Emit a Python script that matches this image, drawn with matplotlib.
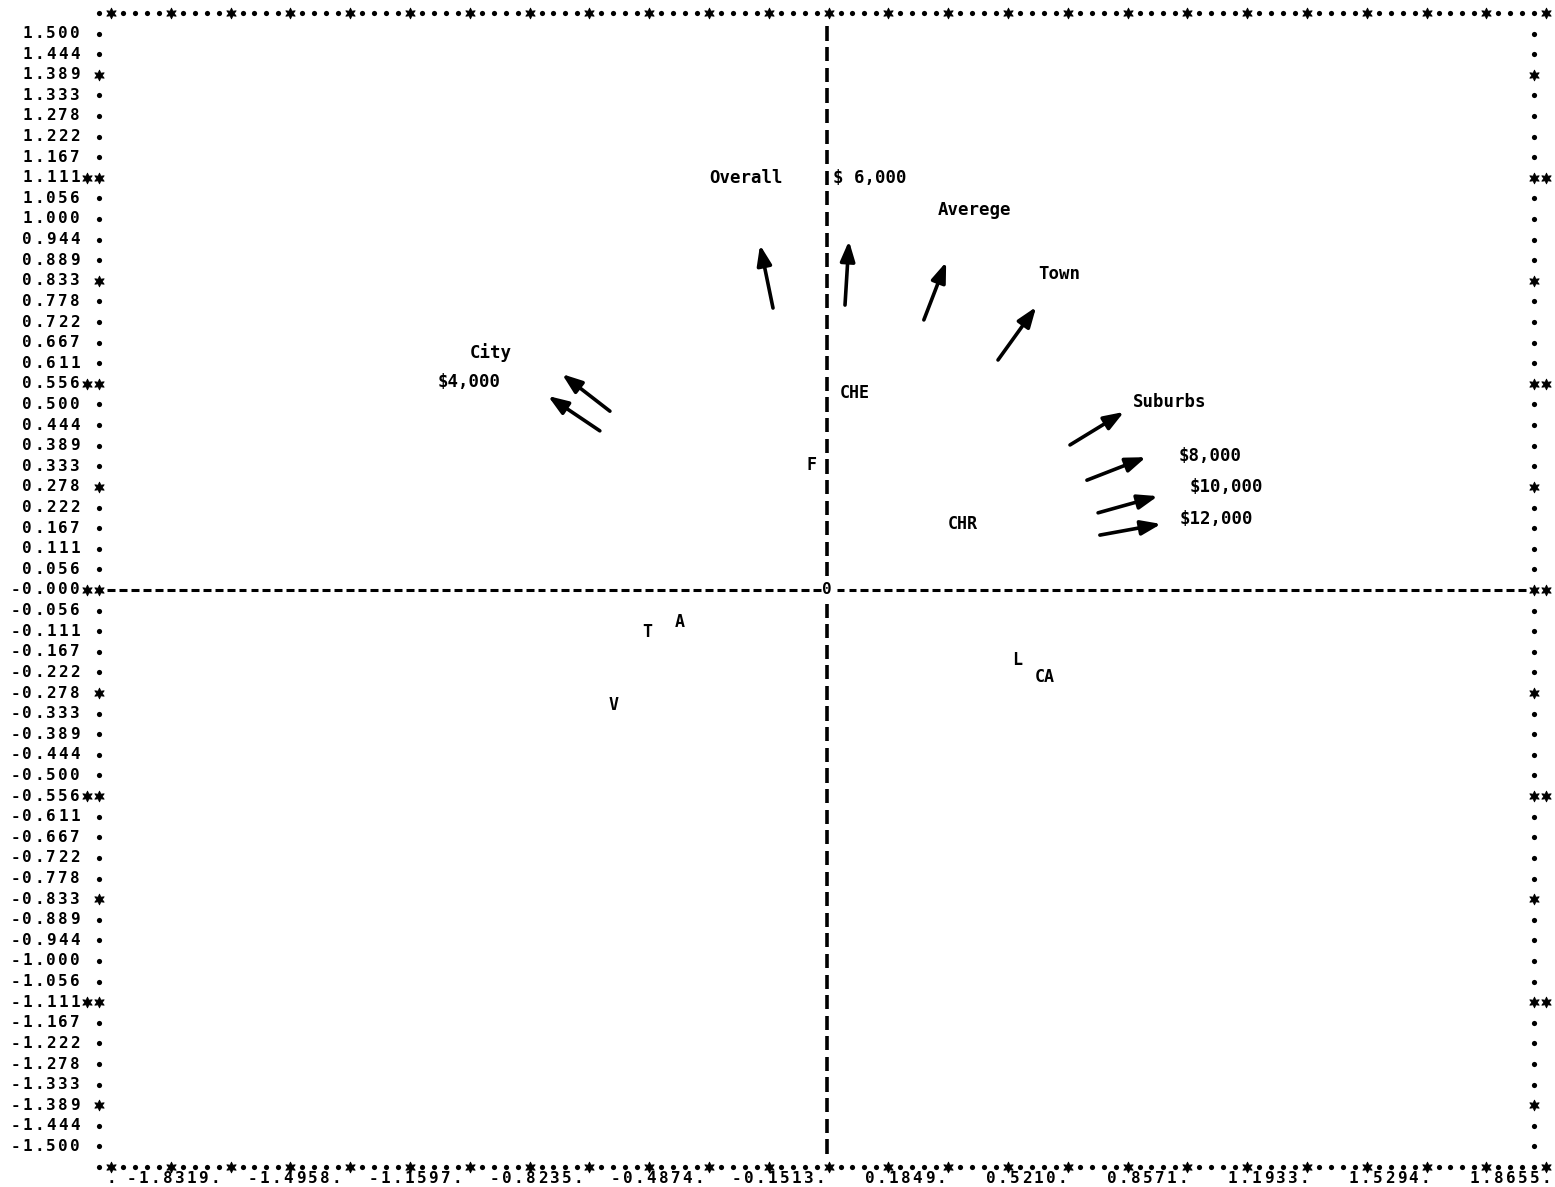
import numpy as np
import matplotlib.pyplot as plt

plt.rcParams['font.family'] = ['DejaVu Sans Mono', 'DejaVu Sans']

# y axis rows as printed by the line printer
ytick_labels = ["1.500", "1.444", "1.389", "1.333", "1.278", "1.222", "1.167", "1.111",
                "1.056", "1.000", "0.944", "0.889", "0.833", "0.778", "0.722", "0.667",
                "0.611", "0.556", "0.500", "0.444", "0.389", "0.333", "0.278", "0.222",
                "0.167", "0.111", "0.056", "-0.000", "-0.056", "-0.111", "-0.167", "-0.222",
                "-0.278", "-0.333", "-0.389", "-0.444", "-0.500", "-0.556", "-0.611", "-0.667",
                "-0.722", "-0.778", "-0.833", "-0.889", "-0.944", "-1.000", "-1.056", "-1.111",
                "-1.167", "-1.222", "-1.278", "-1.333", "-1.389", "-1.444", "-1.500"]
xtick_values = [-1.8319, -1.4958, -1.1597, -0.8235, -0.4874, -0.1513,
                0.1849, 0.5210, 0.8571, 1.1933, 1.5294, 1.8655]
xtick_labels = ["-1.8319.", "-1.4958.", "-1.1597.", "-0.8235.", "-0.4874.", "-0.1513.",
                " 0.1849.", " 0.5210.", " 0.8571.", " 1.1933.", " 1.5294.", " 1.8655."]

# plotted points
point_labels = ["CHE", "F", "CHR", "T", "A", "V", "L", "CA"]
point_x = [0.078, -0.044, 0.378, -0.500, -0.408, -0.592, 0.528, 0.606]
point_y = [0.531, 0.337, 0.178, -0.113, -0.086, -0.310, -0.189, -0.235]

# hand drawn vectors and their labels
vector_labels = ["Overall", r"\$ 6,000", "Averege", "Town", "City", r"\$4,000",
                 "Suburbs", r"\$8,000", r"\$10,000", r"\$12,000"]
tail_x = [-0.150, 0.050, 0.269, 0.475, -0.603, -0.631, 0.675, 0.722, 0.753, 0.758]
tail_y = [0.760, 0.768, 0.728, 0.620, 0.482, 0.429, 0.391, 0.296, 0.208, 0.148]
head_x = [-0.186, 0.061, 0.331, 0.581, -0.736, -0.775, 0.825, 0.886, 0.919, 0.928]
head_y = [0.930, 0.941, 0.884, 0.763, 0.582, 0.523, 0.480, 0.358, 0.253, 0.178]
label_x = [-0.225, 0.119, 0.411, 0.644, -0.933, -0.994, 0.953, 1.064, 1.108, 1.081]
label_y = [1.111, 1.111, 1.024, 0.852, 0.639, 0.561, 0.507, 0.361, 0.278, 0.191]

W, H, dpi = 1555, 1187, 100
fig = plt.figure(figsize=(W / dpi, H / dpi), dpi=dpi)
ax = fig.add_axes([0, 0, 1, 1])
ax.set_xlim(-2.2972, 2.0222)
ax.set_ylim(-1.6092, 1.5903)
ax.axis('off')

cw = 0.033222        # one printer column
row = 1.0 / 18       # one printer line
x_left = -2.0222


def col(c):
    return x_left + c * cw


def put(s, x, y, size=11.5):
    for k, ch in enumerate(s):
        if ch != ' ':
            ax.text(x + k * cw, y, ch, ha='center', va='center', fontsize=size,
                    fontweight='bold')


yvals = [float(s) for s in ytick_labels]
y_top = yvals[0] + row
y_bot = yvals[-1] - row

# frame made of dots and stars
dot_x, dot_y, star_x, star_y = [], [], [], []
for c in range(0, 122):
    for yy in (y_top, y_bot):
        if c % 5 == 1:
            star_x.append(col(c)); star_y.append(yy)
        else:
            dot_x.append(col(c)); dot_y.append(yy)
for i, yy in enumerate(yvals):
    for c in (0, 120):
        if i % 5 == 2:
            star_x.append(col(c)); star_y.append(yy)
        else:
            dot_x.append(col(c)); dot_y.append(yy)
    if i % 10 == 7:
        star_x += [col(-1), col(121)]
        star_y += [yy, yy]
ax.scatter(dot_x, dot_y, s=14, color='black', marker='o', linewidths=0)
ax.scatter(star_x, star_y, s=60, color='black', marker=(6, 1, 0), linewidths=0.6,
           edgecolors='black')

# y tick labels
for lab, yy in zip(ytick_labels, yvals):
    put(lab, col(-2) - (len(lab) - 1) * cw, yy)

# x tick labels
y_lab = y_bot - 0.03
put(".", col(1), y_lab)
for v, lab in zip(xtick_values, xtick_labels):
    put(lab, v - 3 * cw, y_lab)

# zero axes drawn as printer dashes
ax.vlines([0] * (len(yvals) - 1), [y - 0.019 for y in yvals if y != 0],
          [y + 0.019 for y in yvals if y != 0], color='black', lw=2.6)
hx = [col(c) for c in range(1, 120) if abs(col(c)) > cw / 2]
ax.hlines([0] * len(hx), [x - 0.011 for x in hx], [x + 0.011 for x in hx],
          color='black', lw=2.2)
ax.text(0, 0, "0", ha='center', va='center', fontsize=11.5, fontweight='bold',
        bbox=dict(facecolor='white', edgecolor='none', pad=0.5))

# points
for lab, x, y in zip(point_labels, point_x, point_y):
    ax.text(x, y, lab, ha='center', va='center', fontsize=12, fontweight='bold')

# vectors
for i in range(len(vector_labels)):
    ax.annotate("", xy=(head_x[i], head_y[i]), xytext=(tail_x[i], tail_y[i]),
                arrowprops=dict(arrowstyle='-|>,head_length=0.6,head_width=0.22',
                                lw=2.6, color='black', shrinkA=0, shrinkB=0,
                                mutation_scale=20))
    ax.text(label_x[i], label_y[i], vector_labels[i], ha='center', va='center',
            fontsize=12.5, fontweight='bold')

plt.savefig("out.png", dpi=dpi)
